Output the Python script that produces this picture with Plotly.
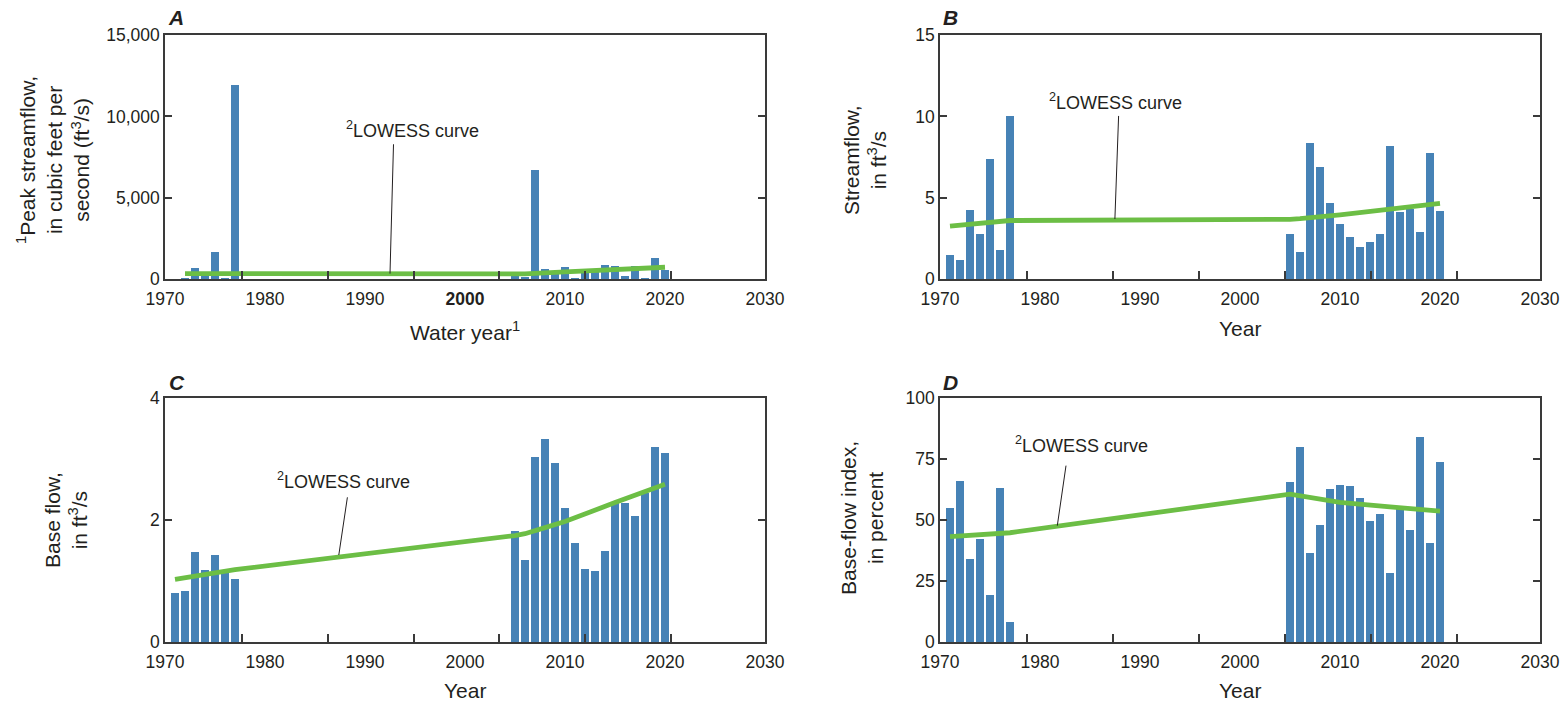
import plotly.graph_objects as go

# ---------------- data ----------------
years_a = [1972, 1973, 1974, 1975, 1976, 1977,
           2005, 2006, 2007, 2008, 2009, 2010, 2011, 2012, 2013, 2014, 2015, 2016, 2017, 2018, 2019, 2020]
peak_flow = [40, 690, 200, 1680, 80, 11900,
             200, 140, 6710, 630, 350, 760, 80, 450, 500, 880, 820, 200, 820, 80, 1310, 570]
lowess_a_years = [1972, 1977, 2005, 2006, 2010, 2015, 2020]
lowess_a = [350, 340, 325, 330, 450, 595, 740]

years_bcd = [1971, 1972, 1973, 1974, 1975, 1976, 1977,
             2005, 2006, 2007, 2008, 2009, 2010, 2011, 2012, 2013, 2014, 2015, 2016, 2017, 2018, 2019, 2020]
streamflow = [1.50, 1.21, 4.27, 2.79, 7.41, 1.83, 10.0,
              2.79, 1.68, 8.34, 6.92, 4.70, 3.41, 2.61, 1.99, 2.30, 2.79, 8.21, 4.11, 4.30, 2.92, 7.78, 4.21]
lowess_b_years = [1971, 1977, 2005, 2006, 2010, 2015, 2020]
lowess_b = [3.26, 3.61, 3.68, 3.72, 3.96, 4.31, 4.66]

base_flow = [0.81, 0.83, 1.47, 1.18, 1.42, 1.15, 1.04,
             1.82, 1.35, 3.03, 3.33, 2.94, 2.20, 1.63, 1.20, 1.17, 1.49, 2.30, 2.28, 2.07, 2.44, 3.20, 3.10]
lowess_c_years = [1971, 1977, 2005, 2006, 2008, 2010, 2015, 2020]
lowess_c = [1.03, 1.19, 1.75, 1.78, 1.88, 1.98, 2.29, 2.59]

bfi = [54.9, 66.1, 33.9, 42.2, 19.1, 63.2, 8.4,
       65.7, 80.1, 36.5, 48.1, 62.8, 64.4, 64.0, 59.1, 49.6, 52.5, 28.2, 55.2, 45.9, 84.2, 40.5, 73.9]
lowess_d_years = [1971, 1977, 2005, 2010, 2015, 2020]
lowess_d = [43.3, 44.9, 60.7, 57.3, 55.5, 53.8]

x_tick_vals = [1970, 1980, 1990, 2000, 2010, 2020, 2030]
x_tick_text_a = ["1970", "1980", "1990", "<b>2000</b>", "2010", "2020", "2030"]
x_tick_text = ["1970", "1980", "1990", "2000", "2010", "2020", "2030"]

# ---------------- styling ----------------
BAR = "rgb(70,130,182)"
GREEN = "rgb(108,190,69)"
FRAME = "#3a3a3a"
TXT = "#231f20"
FONT = "Liberation Sans, Arial, sans-serif"
TICK_SIZE = 17.5
TITLE_SIZE = 21
LABEL_SIZE = 18

W, H = 1568, 704
def px_x(p):
    return p / W
def px_y(p):
    return (H - p) / H

dom_x_left = [px_x(165), px_x(765)]
dom_x_right = [px_x(940), px_x(1540)]
dom_y_top = [px_y(279.3), px_y(35)]
dom_y_bot = [px_y(642.3), px_y(398.3)]

fig = go.Figure()

panels = [
    ("x", "y", years_a, peak_flow, lowess_a_years, lowess_a),
    ("x2", "y2", years_bcd, streamflow, lowess_b_years, lowess_b),
    ("x3", "y3", years_bcd, base_flow, lowess_c_years, lowess_c),
    ("x4", "y4", years_bcd, bfi, lowess_d_years, lowess_d),
]
for xa, ya, xs, ys, lx, ly in panels:
    fig.add_trace(go.Bar(x=xs, y=ys, width=0.8, marker=dict(color=BAR, line=dict(width=0)),
                         xaxis=xa, yaxis=ya, showlegend=False, hoverinfo="x+y"))
    fig.add_trace(go.Scatter(x=lx, y=ly, mode="lines", line=dict(color=GREEN, width=4.8),
                             xaxis=xa, yaxis=ya, showlegend=False))

# offset tick marks as drawn in the original figure
minor_ac = [1977.71, 1986.28, 1994.86, 2003.43, 2012.0, 2020.57]
minor_bd = [1978.7, 1987.3, 1995.9, 2004.5, 2013.1, 2021.7]

def xaxis_cfg(domain, anchor, ticktext, minor_vals):
    return dict(domain=domain, anchor=anchor, range=[1970, 2030], automargin=False,
                tickmode="array", tickvals=x_tick_vals, ticktext=ticktext,
                ticks="", ticklabelstandoff=3,
                showline=True, linecolor=FRAME, linewidth=1.5, mirror=True,
                showgrid=False, zeroline=False,
                tickfont=dict(size=TICK_SIZE, color=TXT, family=FONT),
                minor=dict(tickmode="array", tickvals=minor_vals, ticks="inside",
                           ticklen=9, tickwidth=1.5, tickcolor=FRAME, showgrid=False))

def yaxis_cfg(domain, anchor, rng, vals, texts):
    return dict(domain=domain, anchor=anchor, range=rng, automargin=False,
                tickmode="array", tickvals=vals, ticktext=texts,
                ticks="inside", ticklen=7, tickwidth=1.5, tickcolor=FRAME,
                showline=True, linecolor=FRAME, linewidth=1.5, mirror="ticks",
                showgrid=False, zeroline=False,
                tickfont=dict(size=TICK_SIZE, color=TXT, family=FONT))

fig.update_layout(
    template="none",
    width=W, height=H, margin=dict(l=0, r=0, t=0, b=0, pad=0, autoexpand=False),
    paper_bgcolor="white", plot_bgcolor="white",
    font=dict(family=FONT, size=TICK_SIZE, color=TXT),
    bargap=0,
    xaxis=xaxis_cfg(dom_x_left, "y", x_tick_text_a, minor_ac),
    yaxis=yaxis_cfg(dom_y_top, "x", [0, 15000], [0, 5000, 10000, 15000], ["0", "5,000", "10,000", "15,000"]),
    xaxis2=xaxis_cfg(dom_x_right, "y2", x_tick_text, minor_bd),
    yaxis2=yaxis_cfg(dom_y_top, "x2", [0, 15], [0, 5, 10, 15], ["0", "5", "10", "15"]),
    xaxis3=xaxis_cfg(dom_x_left, "y3", x_tick_text, minor_ac),
    yaxis3=yaxis_cfg(dom_y_bot, "x3", [0, 4], [0, 2, 4], ["0", "2", "4"]),
    xaxis4=xaxis_cfg(dom_x_right, "y4", x_tick_text, minor_bd),
    yaxis4=yaxis_cfg(dom_y_bot, "x4", [0, 100], [0, 25, 50, 75, 100], ["0", "25", "50", "75", "100"]),
)

ann = []
# panel letters
for letter, xp, yp in [("A", 166, 17.5), ("B", 941, 17.5), ("C", 167, 382), ("D", 941, 382)]:
    ann.append(dict(text="<b><i>%s</i></b>" % letter, xref="paper", yref="paper",
                    x=px_x(xp), y=px_y(yp), xanchor="left", yanchor="middle", showarrow=False,
                    font=dict(size=21, color=TXT, family=FONT)))
# y-axis titles
ytitles = [
    ("<sup>1</sup>Peak streamflow,<br>in cubic feet per<br>second (ft<sup>3</sup>/s)", 53, 160),
    ("Streamflow,<br>in ft<sup>3</sup>/s", 865, 160),
    ("Base flow,<br>in ft<sup>3</sup>/s", 66, 520),
    ("Base-flow index,<br>in percent", 862, 518),
]
for t, xp, yp in ytitles:
    ann.append(dict(text=t, xref="paper", yref="paper", x=px_x(xp), y=px_y(yp),
                    xanchor="center", yanchor="middle", textangle=-90, showarrow=False,
                    font=dict(size=TITLE_SIZE, color=TXT, family=FONT)))
# x-axis titles
for t, xp, yp in [("Water year<sup>1</sup>", 465, 331), ("Year", 1240, 328),
                  ("Year", 465, 690), ("Year", 1240, 690)]:
    ann.append(dict(text=t, xref="paper", yref="paper", x=px_x(xp), y=px_y(yp),
                    xanchor="center", yanchor="middle", showarrow=False,
                    font=dict(size=TITLE_SIZE, color=TXT, family=FONT)))
# LOWESS labels
lowess_labels = [("x", "y", 1994.7, 9170), ("x2", "y2", 1987.5, 10.92),
                 ("x3", "y3", 1987.8, 2.66), ("x4", "y4", 1984.1, 80.9)]
for xa, ya, xv, yv in lowess_labels:
    ann.append(dict(text="<sup>2</sup>LOWESS curve", xref=xa, yref=ya, x=xv, y=yv,
                    xanchor="center", yanchor="middle", showarrow=False,
                    font=dict(size=LABEL_SIZE, color=TXT, family=FONT)))
fig.update_layout(annotations=ann)

# leader lines
leaders = [("x", "y", 1992.85, 8290, 1992.5, 350), ("x2", "y2", 1987.86, 10.03, 1987.49, 3.70),
           ("x3", "y3", 1988.24, 2.377, 1987.38, 1.431), ("x4", "y4", 1982.6, 72.4, 1981.73, 47.8)]
for xa, ya, x0, y0, x1, y1 in leaders:
    fig.add_shape(type="line", xref=xa, yref=ya, x0=x0, y0=y0, x1=x1, y1=y1,
                  line=dict(color="#231f20", width=1))

fig.write_html("out.html")
